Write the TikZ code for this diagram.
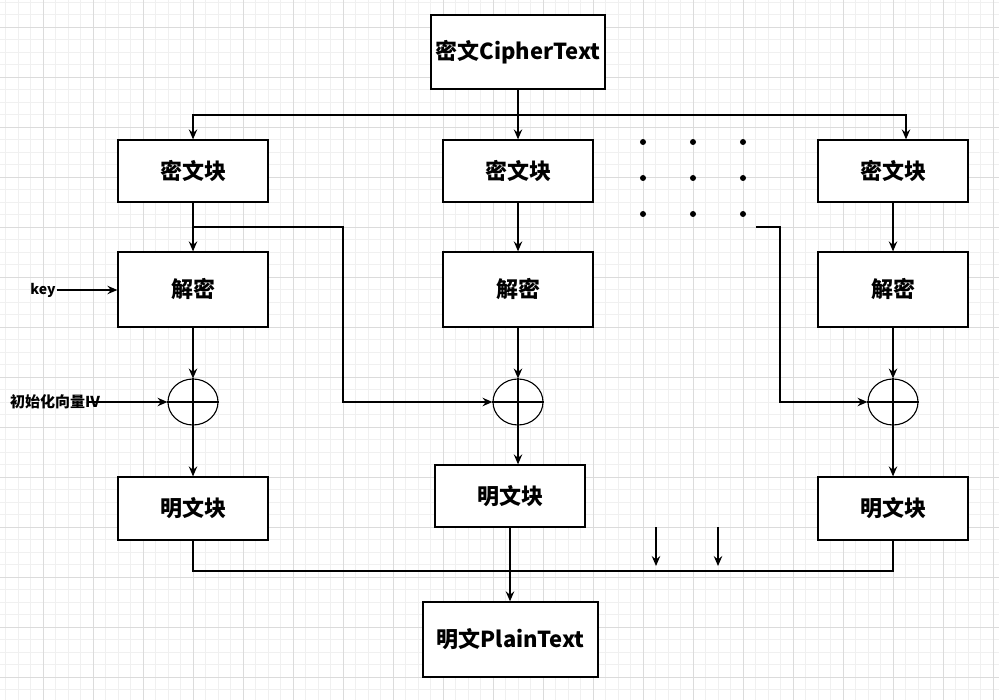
\documentclass[tikz,border=0pt]{standalone}
\usepackage{fontspec}
\setmainfont{Noto Sans CJK SC}
\usetikzlibrary{arrows.meta,shapes.geometric}

\begin{document}
\begin{tikzpicture}[x=1pt, y=-1pt,
    blk/.style={draw, fill=white, line width=1.3pt, minimum width=150pt, inner sep=0pt, font=\bfseries\fontsize{22}{26}\selectfont},
    xorc/.style={draw, ellipse, fill=white, line width=1.1pt, minimum width=50pt, minimum height=46pt, inner sep=0pt},
    arr/.style={line width=1.3pt, -{Stealth[length=10pt,width=8.5pt,inset=3.5pt]}},
    wire/.style={line width=1.3pt},
    gridminor/.style={draw=black!6, line width=0.8pt},
    gridmajor/.style={draw=black!14, line width=0.8pt}]

    \useasboundingbox (0,0) rectangle (999,700);
    \fill[white] (0,0) rectangle (999,700);
    % 背景のグリッド
    \foreach \i in {0,...,79} \draw[gridminor] (5.5+12.5*\i,0) -- (5.5+12.5*\i,700);
    \foreach \i in {0,...,55} \draw[gridminor] (0,2+12.5*\i) -- (999,2+12.5*\i);
    \foreach \i in {0,...,19} \draw[gridmajor] (43+50*\i,0) -- (43+50*\i,700);
    \foreach \i in {0,...,13} \draw[gridmajor] (0,27+50*\i) -- (999,27+50*\i);

    \node[blk, minimum width=174pt, minimum height=74pt] (cipher) at (518,52) {密文CipherText};
    \node[blk, minimum height=62pt] (cb1) at (193,171) {密文块};
    \node[blk, minimum height=62pt] (cb2) at (518,171) {密文块};
    \node[blk, minimum height=62pt] (cb3) at (893,171) {密文块};
    \node[blk, minimum height=75pt] (dec1) at (193,289.5) {解密};
    \node[blk, minimum height=75pt] (dec2) at (518,289.5) {解密};
    \node[blk, minimum height=75pt] (dec3) at (893,289.5) {解密};
    \node[xorc] (xor1) at (193,402) {};
    \node[xorc] (xor2) at (518,402) {};
    \node[xorc] (xor3) at (893,402) {};
    \node[blk, minimum height=63pt] (pb1) at (193,508.5) {明文块};
    \node[blk, minimum height=62pt] (pb2) at (510,496) {明文块};
    \node[blk, minimum height=63pt] (pb3) at (893,508.5) {明文块};
    \node[blk, minimum width=175pt, minimum height=75pt] (plain) at (510.5,639.5) {明文PlainText};

    \node[font=\bfseries\fontsize{14}{16}\selectfont, inner sep=1pt] (key) at (43,290) {key};
    \node[font=\bfseries\fontsize{15}{17}\selectfont, inner sep=0pt] (iv) at (55,402) {初始化向量IV};
    \coordinate (ivs) at (88,402);

    \foreach \x in {643,693,743}
        \foreach \y in {142,178,214}
            \fill (\x,\y) circle (3pt);

    \foreach \n in {1,2,3}
        \draw[wire] (xor\n.north) -- (xor\n.south) (xor\n.west) -- (xor\n.east);

    % 矢印を引く
    \coordinate (split) at (518,115);
    \draw[arr] (cipher.south) -- (cb2.north);
    \draw[arr] (split) -| (cb1.north);
    \draw[arr] (split) -| ([xshift=13pt]cb3.north);
    \foreach \n in {1,2,3} {
        \draw[arr] (cb\n.south) -- (dec\n.north);
        \draw[arr] (dec\n.south) -- (xor\n.north);
    }
    \coordinate (br1) at (193,227);
    \draw[arr] (br1) -- ++(150,0) |- (xor2.west);
    \coordinate (br3) at (756,227);
    \draw[arr] (br3) -- ++(24,0) |- (xor3.west);
    \draw[arr] (key.east) -- (key.east -| dec1.west);
    \draw[arr] (ivs) -- (xor1.west);
    \draw[arr] (xor1.south) -- (pb1.north);
    \draw[arr] (xor2.south) -- (xor2.south |- pb2.north);
    \draw[arr] (xor3.south) -- (pb3.north);

    \coordinate (merge) at (510,571);
    \draw[wire] (pb1.south) |- (merge) -| (pb3.south);
    \draw[arr, line width=2pt] (pb2.south) -- (pb2.south |- plain.north);
    \coordinate (d1s) at (656,527);
    \coordinate (d1e) at (656,566);
    \coordinate (d2s) at (718,527);
    \coordinate (d2e) at (718,566);
    \draw[arr] (d1s) -- (d1e);
    \draw[arr] (d2s) -- (d2e);
\end{tikzpicture}
\end{document}
